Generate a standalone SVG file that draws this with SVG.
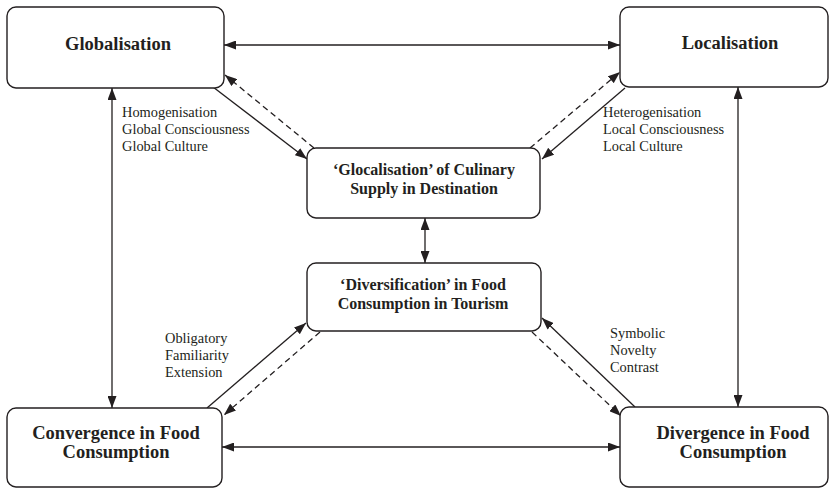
<svg xmlns="http://www.w3.org/2000/svg" width="830" height="488" viewBox="0 0 830 488">
<defs>
<style>
.box{fill:#fff;stroke:#231f20;stroke-width:1.4}
.title{font-family:"Liberation Serif","Times New Roman",serif;font-weight:bold;font-size:18.5px;fill:#231f20;text-anchor:middle}
.mid{font-family:"Liberation Serif","Times New Roman",serif;font-weight:bold;font-size:16px;fill:#231f20;text-anchor:middle}
.lab{font-family:"Liberation Serif","Times New Roman",serif;font-size:14.4px;fill:#231f20}
.ln{stroke:#231f20;stroke-width:1.3;fill:none}
.dash{stroke-dasharray:6,4}
</style>
<marker id="ah" viewBox="0 0 12 9" refX="12" refY="4.5" markerWidth="12" markerHeight="9" markerUnits="userSpaceOnUse" orient="auto-start-reverse">
<path d="M0,0 L12,4.5 L0,9 z" fill="#231f20"/>
</marker>
</defs>
<rect width="830" height="488" fill="#fff"/>
<g id="connectors">
<line class="ln" x1="224" y1="45" x2="620" y2="45" marker-start="url(#ah)" marker-end="url(#ah)"/>
<line class="ln" x1="222" y1="447" x2="620" y2="447" marker-start="url(#ah)" marker-end="url(#ah)"/>
<line class="ln" x1="112" y1="88" x2="112" y2="408" marker-start="url(#ah)" marker-end="url(#ah)"/>
<line class="ln" x1="738" y1="87" x2="738" y2="407" marker-start="url(#ah)" marker-end="url(#ah)"/>
<line class="ln" x1="425" y1="218" x2="425" y2="263" marker-start="url(#ah)" marker-end="url(#ah)"/>
<line class="ln" x1="213" y1="87" x2="307" y2="159" marker-end="url(#ah)"/>
<line class="ln dash" x1="314" y1="148" x2="225" y2="75" marker-end="url(#ah)"/>
<line class="ln" x1="625" y1="88" x2="542" y2="159" marker-end="url(#ah)"/>
<line class="ln dash" x1="530" y1="148" x2="620" y2="72" marker-end="url(#ah)"/>
<line class="ln" x1="207" y1="408" x2="306" y2="323" marker-end="url(#ah)"/>
<line class="ln dash" x1="320" y1="332" x2="224" y2="415" marker-end="url(#ah)"/>
<line class="ln" x1="635" y1="407" x2="542" y2="318" marker-end="url(#ah)"/>
<line class="ln dash" x1="532" y1="332" x2="621" y2="416" marker-end="url(#ah)"/>
</g>
<g id="globalisation">
<rect class="box" x="7" y="7" width="217" height="81" rx="9"/>
<text class="title" x="118" y="50">Globalisation</text>
</g>
<g id="localisation">
<rect class="box" x="620" y="7" width="208" height="80" rx="9"/>
<text class="title" x="730" y="49">Localisation</text>
</g>
<g id="glocalisation">
<rect class="box" x="307" y="148" width="233" height="70" rx="9"/>
<text class="mid" x="424" y="175">‘Glocalisation’ of Culinary</text>
<text class="mid" x="424" y="194">Supply in Destination</text>
</g>
<g id="diversification">
<rect class="box" x="307" y="263" width="234" height="68" rx="9"/>
<text class="mid" x="423" y="290">‘Diversification’ in Food</text>
<text class="mid" x="423" y="309">Consumption in Tourism</text>
</g>
<g id="convergence">
<rect class="box" x="7" y="408" width="215" height="79" rx="9"/>
<text class="title" x="116" y="439">Convergence in Food</text>
<text class="title" x="116" y="458">Consumption</text>
</g>
<g id="divergence">
<rect class="box" x="620" y="407" width="208" height="80" rx="9"/>
<text class="title" x="733" y="439">Divergence in Food</text>
<text class="title" x="733" y="458">Consumption</text>
</g>
<g id="labels">
<text class="lab" x="122" y="117">Homogenisation</text>
<text class="lab" x="122" y="134">Global Consciousness</text>
<text class="lab" x="122" y="151">Global Culture</text>
<text class="lab" x="603" y="117">Heterogenisation</text>
<text class="lab" x="603" y="134">Local Consciousness</text>
<text class="lab" x="603" y="151">Local Culture</text>
<text class="lab" x="165" y="343">Obligatory</text>
<text class="lab" x="165" y="360">Familiarity</text>
<text class="lab" x="165" y="377">Extension</text>
<text class="lab" x="610" y="338">Symbolic</text>
<text class="lab" x="610" y="355">Novelty</text>
<text class="lab" x="610" y="372">Contrast</text>
</g>
</svg>
